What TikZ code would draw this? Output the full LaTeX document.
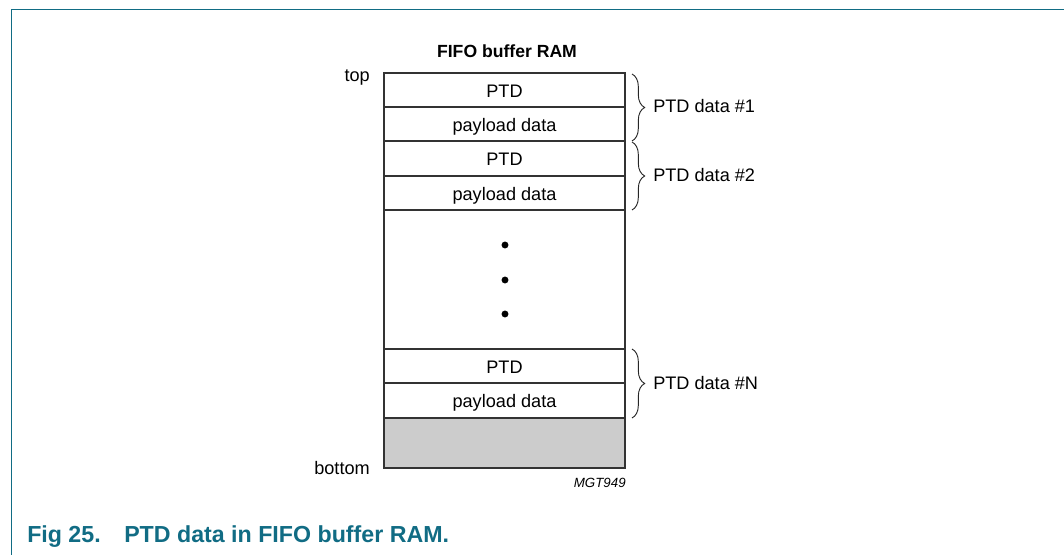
\documentclass[tikz,border=0pt]{standalone}
\usepackage{fontspec}
\setmainfont{Liberation Sans}
\usetikzlibrary{decorations.pathreplacing}
\definecolor{nxpteal}{HTML}{116C84}
\definecolor{fillgray}{HTML}{CCCCCC}
\begin{document}
\begin{tikzpicture}[x=0.75pt,y=-0.75pt,
  boxline/.style={draw=black!80, line width=0.9pt},
  txt/.style={font=\fontsize{13.6}{16}\selectfont, anchor=base, inner sep=0pt},
  sidetxt/.style={font=\fontsize{13.6}{16}\selectfont, inner sep=0pt},
  bracestyle/.style={draw=black!85, line width=0.7pt, decorate, decoration={brace, amplitude=9.5pt}},
  dotmark/.style={circle, fill=black, inner sep=0pt, minimum size=5.2pt},
  captxt/.style={font=\fontsize{17.4}{20}\selectfont\bfseries, text=nxpteal, anchor=base west, inner sep=0pt}
]
\useasboundingbox (0,0) rectangle (1064,555);
% frame
\draw[nxpteal, line width=1.1pt] (11.5,555) -- (11.5,9.5) -- (1064,9.5);
% memory column
\fill[fillgray] (384,418) rectangle (625,468);
\draw[boxline] (384,73) rectangle (625,468);
\foreach \yy in {107,141,176,210,349,383,418} \draw[boxline] (384,\yy) -- (625,\yy);
% title and side labels
\node[font=\fontsize{13.2}{15}\selectfont\bfseries, anchor=base, inner sep=0pt] (title) at (507,57.3) {FIFO buffer RAM};
\node[sidetxt, anchor=base east] (toplbl) at (370,81.5) {top};
\node[sidetxt, anchor=base east] (botlbl) at (370,475) {bottom};
% cell texts
\node[txt] (p1) at (504.5,97.5) {PTD};
\node[txt] (d1) at (504.5,131.5) {payload data};
\node[txt] (p2) at (504.5,166) {PTD};
\node[txt] (d2) at (504.5,200.5) {payload data};
\node[txt] (pn) at (504.5,373.5) {PTD};
\node[txt] (dn) at (504.5,408) {payload data};
% dots
\node[dotmark] (dot1) at (505,245) {};
\node[dotmark] (dot2) at (505,280) {};
\node[dotmark] (dot3) at (505,314) {};
% braces
\coordinate (b1t) at (632,74);
\coordinate (b1b) at (632,141);
\coordinate (b2t) at (632,142);
\coordinate (b2b) at (632,210);
\coordinate (bnt) at (632,349);
\coordinate (bnb) at (632,418);
\draw[bracestyle] (b1t) -- (b1b);
\draw[bracestyle] (b2t) -- (b2b);
\draw[bracestyle] (bnt) -- (bnb);
\node[sidetxt, anchor=base west] (l1) at (653,113) {PTD data \#1};
\node[sidetxt, anchor=base west] (l2) at (653,182) {PTD data \#2};
\node[sidetxt, anchor=base west] (ln) at (653,389.5) {PTD data \#N};
% figure code
\node[font=\fontsize{10}{12}\selectfont\itshape, anchor=base east, inner sep=0pt] (code) at (626,488) {MGT949};
% caption
\node[captxt] (capnum) at (27,543) {Fig 25.};
\node[captxt] (captext) at (124,543) {PTD data in FIFO buffer RAM.};
\end{tikzpicture}
\end{document}
